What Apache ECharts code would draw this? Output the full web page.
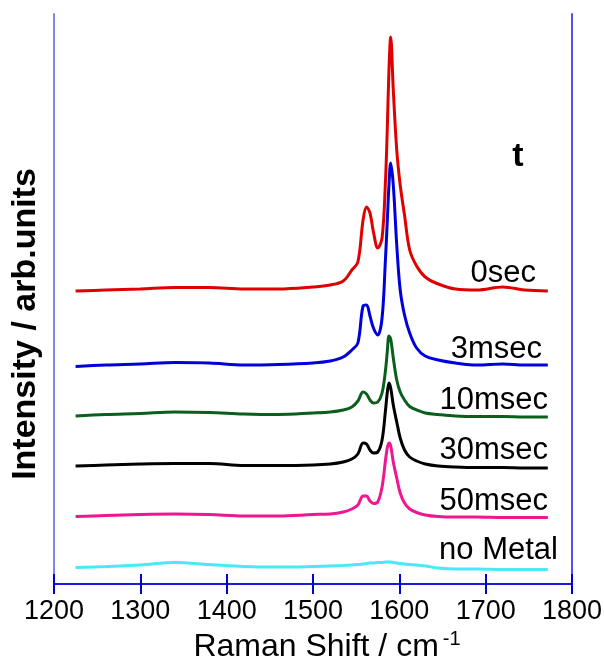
<!DOCTYPE html>
<html>
<head>
<meta charset="utf-8">
<script src="https://cdn.jsdelivr.net/npm/echarts@6/dist/echarts.min.js"></script>
<style>
  html, body { margin: 0; padding: 0; background: #fff; }
  #chart { width: 604px; height: 664px; }
</style>
</head>
<body>
<div id="chart"></div>
<script>
// Raman shift (cm-1), shared by every spectrum
const shift = [1225, 1260, 1300, 1340, 1380, 1420, 1460, 1500, 1520, 1535, 1545, 1552, 1558, 1562, 1566, 1570, 1575, 1580, 1584, 1586, 1588, 1590, 1593, 1597, 1601, 1606, 1612, 1620, 1630, 1645, 1665, 1690, 1720, 1745, 1772]

// intensities (arb. units, offset spectra)
const sec0 = [293, 294, 295, 296.5, 296.5, 295, 295, 297, 299, 303, 314, 322, 364, 377, 371, 352, 336, 346, 404, 454, 514, 547, 494, 434, 399, 369, 334, 318, 307, 300, 295, 294, 297, 294, 293]
const msec3 = [217.5, 219, 220, 221.5, 221, 219, 219.5, 221, 223, 227, 234, 241, 278, 279, 268, 256, 249, 266, 326, 362, 399, 421, 399, 339, 294, 269, 251, 236, 228, 224, 221, 219, 220, 219, 219]
const msec10 = [168, 169.5, 170.5, 172, 171.5, 170, 169.5, 171, 172, 174, 177, 183, 192, 190, 184, 181, 182, 191, 214, 232, 248, 245, 226, 204, 192, 184, 177.5, 174, 171, 169.5, 168, 167.5, 167.5, 167, 167]
const msec30 = [118, 119, 120, 120.5, 120.5, 118.5, 118.5, 119, 120, 122, 125, 130, 141, 140, 134, 131, 132, 144, 174, 191, 201, 196, 179, 162, 146, 134, 127, 123, 120, 118, 117, 116.5, 116.5, 116, 116]
const msec50 = [67.5, 68.5, 69.5, 70, 69.5, 68, 68, 69.5, 70, 72, 75, 79, 88, 88, 83, 80.5, 82, 97, 124, 136, 141, 138, 122, 106, 91, 81, 75, 71.5, 69, 67.5, 67, 67, 66.5, 66.5, 66.5]
const noMetal = [16.5, 17.5, 19, 21.5, 19.5, 17.5, 17, 17.5, 18, 18.5, 19, 19.5, 20, 20.5, 21, 21, 21.5, 21.5, 22, 22, 22, 22, 21.5, 21, 20.5, 20, 19.5, 19, 18, 16, 15, 15, 14.5, 14.5, 14.5]

const names = ['0sec', '3msec', '10msec', '30msec', '50msec', 'no Metal']
const spectra = [sec0, msec3, msec10, msec30, msec50, noMetal]
const colors = ['#e00000', '#0000dc', '#0b5e1e', '#000000', '#f01690', '#4ae8f8']

// where each name sits (right edge, middle)
const labelPos = [[536, 273], [542, 349], [548, 400], [548, 450], [548, 501], [558, 550]]

const chart = echarts.init(document.getElementById('chart'))

const series = spectra.map((vals, i) => ({
  name: names[i],
  type: 'line',
  data: shift.map((x, j) => [x, vals[j]]),
  showSymbol: false,
  smooth: 0.35,
  lineStyle: { color: colors[i], width: 3 },
  z: 10 - i,
}))

const labels = names.map((n, i) => ({
  type: 'text',
  x: labelPos[i][0],
  y: labelPos[i][1],
  style: {
    text: n,
    fill: '#000',
    font: '31px "Liberation Sans", Arial, sans-serif',
    textAlign: 'right',
    textVerticalAlign: 'middle',
  },
}))

const tickFont = '"Liberation Sans Narrow", "Liberation Sans", Arial, sans-serif'

chart.setOption({
  animation: false,
  grid: { left: 54, right: 32, top: 14, bottom: 80, containLabel: false, outerBoundsMode: 'none' },
  xAxis: [
    {
      type: 'value', min: 1200, max: 1800, interval: 100, position: 'bottom',
      axisLine: { lineStyle: { color: '#7b7be8', width: 2 } },
      axisTick: { inside: true, length: 10, lineStyle: { color: '#0000d8', width: 2 } },
      axisLabel: { color: '#000', fontSize: 27, fontFamily: tickFont, margin: 14, formatter: v => String(v) },
      splitLine: { show: false },
      name: '{a|Raman Shift / cm}{b|-1}',
      nameLocation: 'middle',
      nameGap: 42,
      nameTextStyle: {
        rich: {
          a: { fontSize: 32, fontFamily: tickFont, color: '#000', padding: [0, 0, 0, 28] },
          b: { fontSize: 20, fontFamily: tickFont, color: '#000', verticalAlign: 'top', padding: [0, 0, 14, 4] },
        },
      },
    },
    {
      type: 'value', min: 1200, max: 1800, interval: 100, position: 'top',
      axisLine: { lineStyle: { color: '#1a1ae0', width: 2 } },
      axisTick: { inside: true, length: 10, lineStyle: { color: '#0000d8', width: 2 } },
      axisLabel: { show: false },
      splitLine: { show: false },
    },
  ],
  yAxis: [
    {
      type: 'value', min: 0, max: 570, position: 'left',
      axisLine: { show: true, lineStyle: { color: '#8484ec', width: 2 } },
      axisTick: { show: false },
      axisLabel: { show: false },
      splitLine: { show: false },
    },
    {
      type: 'value', min: 0, max: 570, position: 'right',
      axisLine: { show: true, lineStyle: { color: '#5050ee', width: 2 } },
      axisTick: { show: false },
      axisLabel: { show: false },
      splitLine: { show: false },
    },
  ],
  series,
  graphic: [
    ...labels,
    {
      type: 'text', x: 518, y: 157,
      style: { text: 't', fill: '#000', font: 'bold 34px "Liberation Sans", Arial, sans-serif', textAlign: 'center', textVerticalAlign: 'middle' },
    },
    {
      type: 'text', x: 26, y: 324, rotation: Math.PI / 2,
      style: { text: 'Intensity / arb.units', fill: '#000', font: 'bold 34px "Liberation Sans", Arial, sans-serif', textAlign: 'center', textVerticalAlign: 'middle' },
    },
  ],
})
</script>
</body>
</html>
